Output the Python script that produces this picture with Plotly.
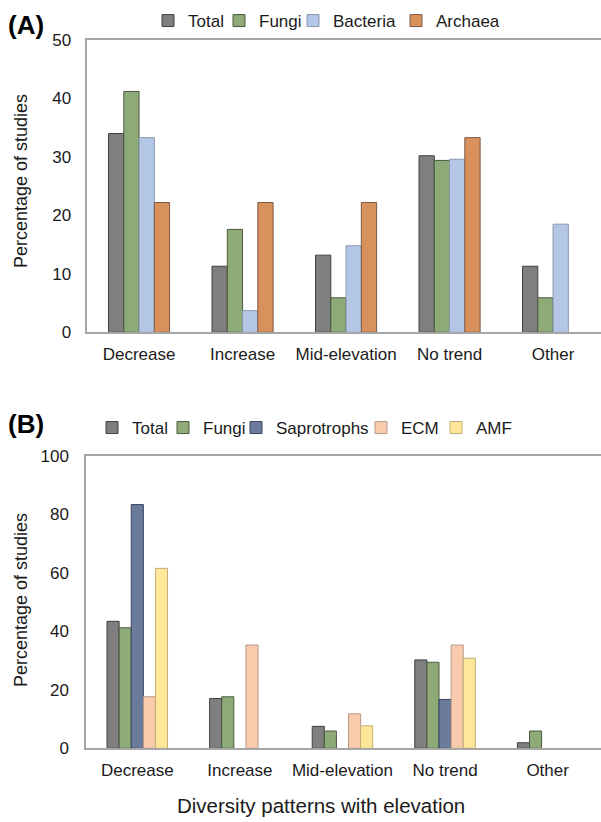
import plotly.graph_objects as go

categories = ["Decrease", "Increase", "Mid-elevation", "No trend", "Other"]

# Panel A (None = no bar drawn)
a_total = [34.0, 11.3, 13.2, 30.2, 11.3]
a_fungi = [41.2, 17.6, 5.9, 29.4, 5.9]
a_bacteria = [33.3, 3.7, 14.8, 29.6, 18.5]
a_archaea = [22.2, 22.2, 22.2, 33.3, None]

# Panel B
b_total = [43.4, 17.0, 7.5, 30.2, 1.9]
b_fungi = [41.2, 17.6, 5.9, 29.4, 5.9]
b_sapro = [83.3, None, None, 16.7, None]
b_ecm = [17.6, 35.3, 11.8, 35.3, None]
b_amf = [61.5, None, 7.7, 30.8, None]

FONT = "Liberation Sans, Arial, sans-serif"
W, H = 601, 822

def px_x(v):
    return v / W

def px_y(v):
    return 1 - v / H

# (name, values, fill, outline, legend text left x in px)
series_a = [
    ("Total", a_total, "#7f7f7f", "#3f3f3f", 188),
    ("Fungi", a_fungi, "#8eaa77", "#4a5a40", 259),
    ("Bacteria", a_bacteria, "#b4c7e7", "#8a98b0", 333),
    ("Archaea", a_archaea, "#d9915c", "#7a5a45", 436),
]
series_b = [
    ("Total", b_total, "#7f7f7f", "#3f3f3f", 132),
    ("Fungi", b_fungi, "#8eaa77", "#4a5a40", 203),
    ("Saprotrophs", b_sapro, "#6a7b9c", "#3a4560", 276),
    ("ECM", b_ecm, "#f8cbad", "#b89a88", 401),
    ("AMF", b_amf, "#ffe699", "#bfae78", 476),
]

fig = go.Figure()
legend_layouts = {}
idx = 0
for panel, series, ax, ay, ly in (("A", series_a, "x", "y", 21), ("B", series_b, "x2", "y2", 428)):
    for name, vals, col, lc, tx in series:
        idx += 1
        lname = "legend" if idx == 1 else f"legend{idx}"
        fig.add_trace(go.Bar(x=categories, y=vals, name=name,
                             marker=dict(color=col, line=dict(color=lc, width=1)),
                             xaxis=ax, yaxis=ay, legend=lname))
        legend_layouts[lname] = dict(
            orientation="h", x=px_x(tx - 40), y=px_y(ly), xanchor="left", yanchor="middle",
            font=dict(family=FONT, size=17, color="#1a1a1a"), itemwidth=30,
            bgcolor="rgba(0,0,0,0)", borderwidth=0)

axis_line = "#a6a6a6"
tickfont = dict(family=FONT, size=17, color="#1a1a1a")

fig.update_layout(
    width=W, height=H,
    margin=dict(l=0, r=0, t=0, b=0, autoexpand=False),
    paper_bgcolor="white", plot_bgcolor="white",
    barmode="group",
    font=dict(family=FONT, size=17, color="#1a1a1a"),
    xaxis=dict(domain=[px_x(87.3), 1], range=[-0.5, 4.463], anchor="y", automargin=False,
               showline=True, linecolor=axis_line, linewidth=1.5, mirror=True,
               showgrid=False, ticks="", tickfont=tickfont, ticklabelstandoff=6),
    yaxis=dict(domain=[px_y(332.3), px_y(40)], range=[0, 50], dtick=10, anchor="x", automargin=False,
               showline=True, linecolor=axis_line, linewidth=1.5,
               showgrid=False, zeroline=False, ticks="", tickfont=tickfont, ticklabelstandoff=11),
    xaxis2=dict(domain=[px_x(86), 1], range=[-0.5, 4.52], anchor="y2", automargin=False,
                showline=True, linecolor=axis_line, linewidth=1.5, mirror=True,
                showgrid=False, ticks="", tickfont=tickfont, ticklabelstandoff=6),
    yaxis2=dict(domain=[px_y(748.3), px_y(455.7)], range=[0, 100], dtick=20, anchor="x2", automargin=False,
                showline=True, linecolor=axis_line, linewidth=1.5,
                showgrid=False, zeroline=False, ticks="", tickfont=tickfont, ticklabelstandoff=12),
    bargap=0.41,
    bargroupgap=0,
    showlegend=True,
)
fig.update_layout(**legend_layouts)

annotations = [
    dict(text="<b>(A)</b>", x=px_x(6), y=px_y(25), xanchor="left", yanchor="middle",
         font=dict(family=FONT, size=26, color="black")),
    dict(text="<b>(B)</b>", x=px_x(6), y=px_y(424), xanchor="left", yanchor="middle",
         font=dict(family=FONT, size=26, color="black")),
    dict(text="Percentage of studies", x=px_x(21), y=px_y(181), textangle=-90,
         xanchor="center", yanchor="middle", font=dict(family=FONT, size=18, color="#1a1a1a")),
    dict(text="Percentage of studies", x=px_x(21), y=px_y(600), textangle=-90,
         xanchor="center", yanchor="middle", font=dict(family=FONT, size=18, color="#1a1a1a")),
    dict(text="Diversity patterns with elevation", x=px_x(321), y=px_y(805),
         xanchor="center", yanchor="middle", font=dict(family=FONT, size=20.5, color="#1a1a1a")),
]
for a in annotations:
    a.update(xref="paper", yref="paper", showarrow=False)
fig.update_layout(annotations=annotations)

fig.write_html("out.html", post_script="document.body.style.margin='0';",
               config={"displayModeBar": False})
